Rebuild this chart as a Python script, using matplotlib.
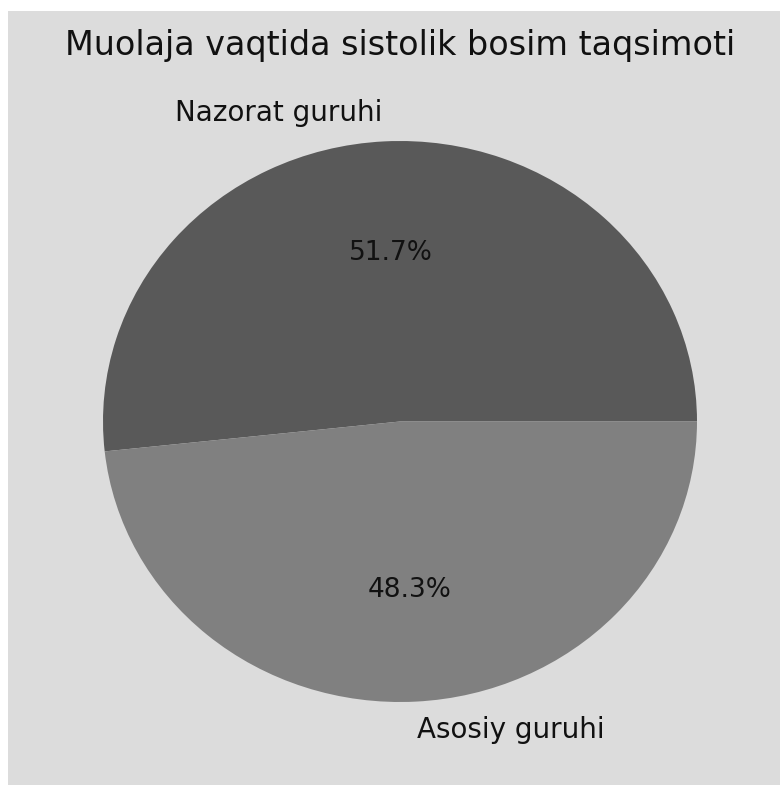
import matplotlib.pyplot as plt
from matplotlib.patches import Rectangle

# data
labels = ['Nazorat guruhi', 'Asosiy guruhi']
values = [51.7, 48.3]
colors = ['#595959', '#808080']

fig = plt.figure(figsize=(7.8, 7.85), dpi=100, facecolor='white')
# grey panel (white strip on top / left like the reference)
fig.patches.append(Rectangle((8 / 780, 0), 1, 1 - 11 / 785, transform=fig.transFigure,
                             facecolor='#dcdcdc', edgecolor='none', zorder=-1))

# the reference pie is slightly squashed vertically
ax = fig.add_axes([103 / 780, 83 / 785, 594 / 780, 561 / 785])
wedges, texts, autotexts = ax.pie(values, labels=labels, colors=colors, autopct='%1.1f%%',
                                  startangle=0, labeldistance=1.1, pctdistance=0.6,
                                  textprops={'fontsize': 20, 'color': '#111111'})
for t in autotexts:
    t.set_fontsize(19)
ax.set_xlim(-1, 1)
ax.set_ylim(-1, 1)
ax.set_aspect('auto')

fig.text(400 / 780, 1 - 45 / 785, 'Muolaja vaqtida sistolik bosim taqsimoti',
         ha='center', va='center', fontsize=24, color='#111111')

fig.savefig('out.png', dpi=100)
